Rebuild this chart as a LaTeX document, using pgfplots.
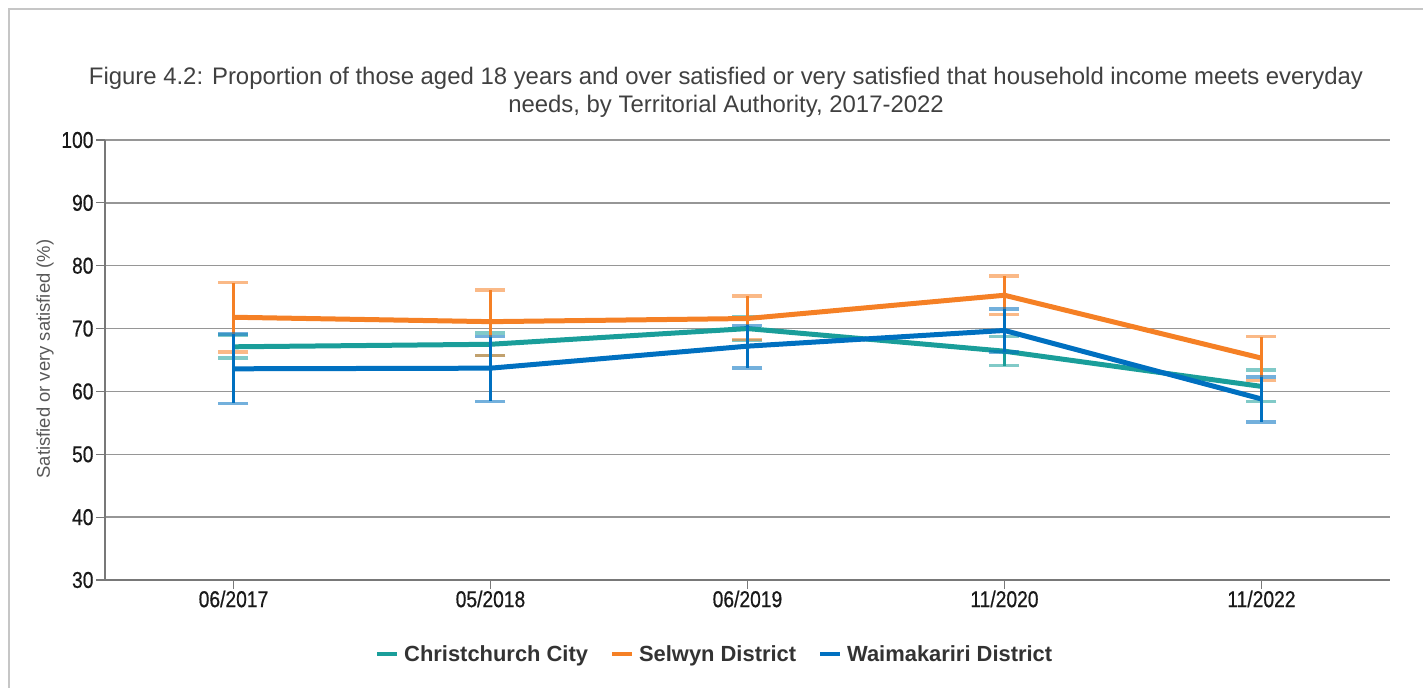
\documentclass[border=0pt]{standalone}
\usepackage{fontspec}
\setmainfont{Liberation Sans}
\newfontfamily\narrowfont[FakeStretch=0.84,FakeBold=0.6]{Liberation Sans}
\usepackage{pgfplots}
\pgfplotsset{compat=1.18}
\definecolor{cTeal}{RGB}{26,158,154}
\definecolor{cOrange}{RGB}{245,128,37}
\definecolor{cBlue}{RGB}{0,112,192}
\definecolor{cGrid}{RGB}{150,150,150}
\definecolor{cAxis}{RGB}{120,120,120}
\definecolor{cTitle}{RGB}{64,64,64}
\pgfplotsset{
  ebar/.style={
    error bars/.cd, y dir=both, y explicit,
    error bar style={line width=2.5bp, solid},
    error mark options={line width=3.5bp, mark size=15bp, opacity=0.55, rotate=90}
  }
}
\begin{document}
\begin{tikzpicture}
\useasboundingbox (0,0) rectangle (1423bp,688bp);
\draw[gray!45, line width=2bp] (9bp,0bp) -- (9bp,679bp) -- (1423bp,679bp);
\node[font=\fontsize{24}{28}\selectfont, color=cTitle] at (726bp,610bp) {Figure 4.2: Proportion of those aged 18 years and over satisfied or very satisfied that household income meets everyday};
\node[font=\fontsize{24}{28}\selectfont, color=cTitle] at (726bp,582bp) {needs, by Territorial Authority, 2017-2022};
\node[rotate=90, font=\fontsize{18.5}{20}\selectfont, color=black!65] at (45bp,329bp) {Satisfied or very satisfied (\%)};
\begin{axis}[
  scale only axis, width=1285bp, height=440bp,
  at={(105bp,108bp)}, anchor=south west,
  xmin=-0.5, xmax=4.5, ymin=30, ymax=100,
  ytick={30,40,...,100},
  xtick={0,1,2,3,4},
  xticklabels={06/2017,05/2018,06/2019,11/2020,11/2022},
  axis lines*=left,
  axis line style={cAxis, line width=1.5bp},
  ymajorgrids, grid style={cGrid, line width=1.5bp},
  tick align=outside, major tick length=9bp,
  tick style={cAxis, line width=1.2bp},
  ticklabel style={font=\narrowfont\fontsize{23}{24}\selectfont, color=black!90},
  /pgf/number format/assume math mode=true,
  yticklabel style={xshift=1bp},
  xticklabel style={yshift=2bp},
  legend style={at={(0.4745,-0.168)}, anchor=center, draw=none, fill=none,
    legend columns=3, font=\bfseries\fontsize{22}{24}\selectfont, text=black!80,
    /tikz/every odd column/.append style={column sep=3bp},
    /tikz/every even column/.append style={column sep=20bp}},
  legend image code/.code={\draw[line width=4bp] (0bp,0bp) -- (20bp,0bp);},
]
\addplot[color=cTeal, line width=5bp, mark=none, ebar] coordinates {
  (0,67.1) += (0,1.9) -= (0,1.8)
  (1,67.5) += (0,1.8) -= (0,1.8)
  (2,70.0) += (0,1.9) -= (0,1.9)
  (3,66.4) += (0,2.3) -= (0,2.3)
  (4,60.8) += (0,2.6) -= (0,2.4)
};
\addlegendentry{Christchurch City}
\addplot[color=cOrange, line width=5bp, mark=none, ebar] coordinates {
  (0,71.8) += (0,5.5) -= (0,5.5)
  (1,71.1) += (0,5.0) -= (0,5.4)
  (2,71.6) += (0,3.6) -= (0,3.3)
  (3,75.3) += (0,3.1) -= (0,3.1)
  (4,65.3) += (0,3.4) -= (0,3.6)
};
\addlegendentry{Selwyn District}
\addplot[color=cBlue, line width=5bp, mark=none, ebar] coordinates {
  (0,63.6) += (0,5.5) -= (0,5.5)
  (1,63.7) += (0,5.0) -= (0,5.3)
  (2,67.2) += (0,3.3) -= (0,3.5)
  (3,69.7) += (0,3.4) -= (0,3.4)
  (4,58.8) += (0,3.5) -= (0,3.7)
};
\addlegendentry{Waimakariri District}
\end{axis}
\end{tikzpicture}
\end{document}
